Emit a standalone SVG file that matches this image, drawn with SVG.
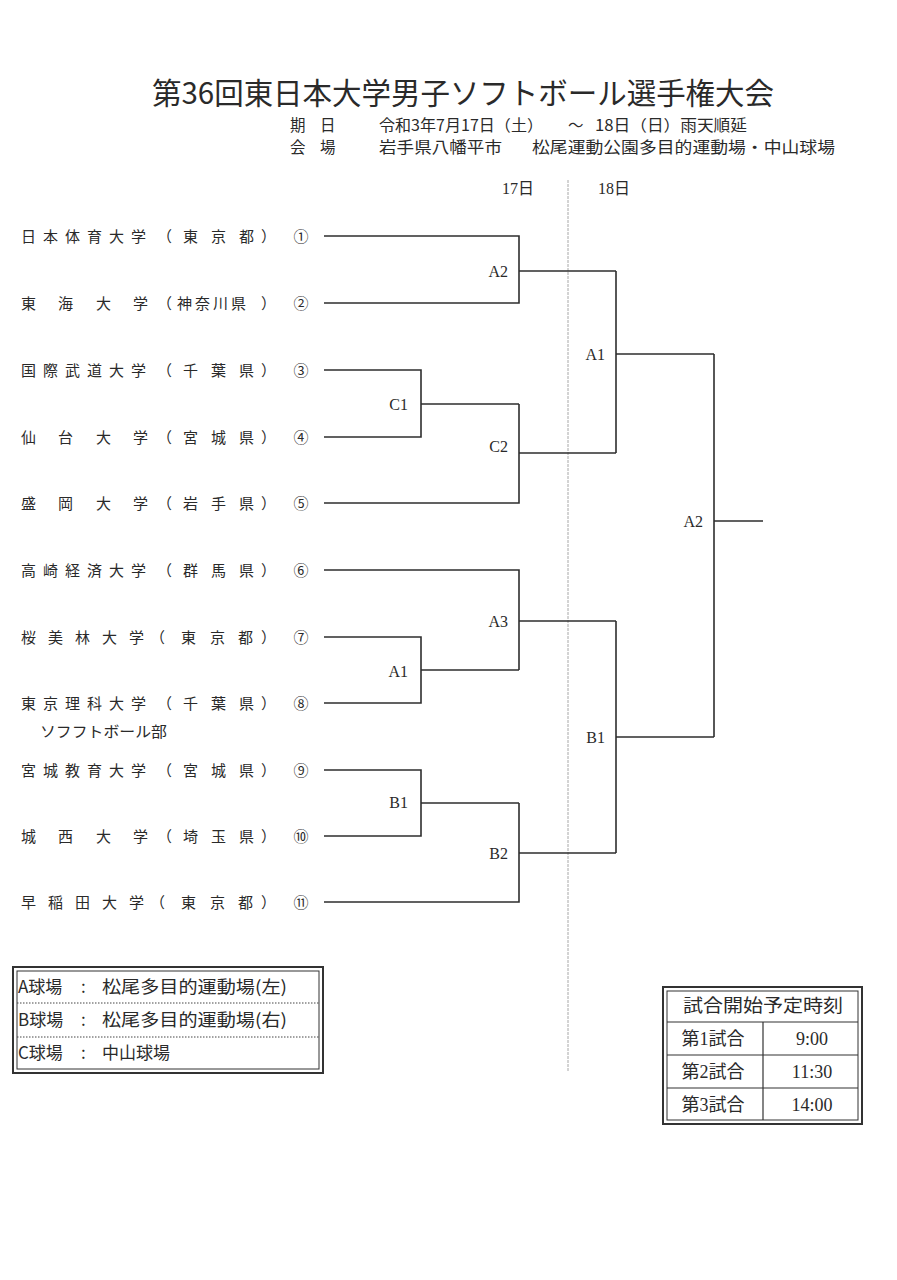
<svg xmlns="http://www.w3.org/2000/svg" width="897" height="1280" viewBox="0 0 897 1280">
<style>
.jp{font-family:"Noto Sans CJK JP","Noto Sans CJK SC",sans-serif;fill:#2a2a2a}
.sf{font-family:"Liberation Serif","Noto Sans CJK JP",serif;fill:#2a2a2a}
.name{font-size:15px}
.num{font-size:15px;text-anchor:middle}
.lbl{font-size:16px;text-anchor:end}
.hd{font-size:15.5px}
.br{fill:none;stroke:#2e2e2e;stroke-width:1.6}
.day{fill:none;stroke:#a8a8a8;stroke-width:1}
.box{fill:none;stroke:#333}
</style>
<rect width="897" height="1280" fill="#ffffff"/>

<g id="title">
<text class="jp" x="152" y="104" font-size="30" textLength="622" lengthAdjust="spacingAndGlyphs" fill="#1a1a1a">第36回東日本大学男子ソフトボール選手権大会</text>
</g>
<g id="header">
<text class="jp hd" x="290 320" y="131">期日</text>
<text class="jp hd" x="379" y="131" textLength="164" lengthAdjust="spacingAndGlyphs">令和3年7月17日（土）</text>
<text class="jp hd" x="568" y="131">～</text>
<text class="jp hd" x="595" y="131" textLength="152" lengthAdjust="spacingAndGlyphs">18日（日）雨天順延</text>
<text class="jp hd" x="290 320" y="153">会場</text>
<text class="jp hd" x="379" y="153" textLength="123" lengthAdjust="spacingAndGlyphs">岩手県八幡平市</text>
<text class="jp hd" x="532" y="153" textLength="303" lengthAdjust="spacingAndGlyphs">松尾運動公園多目的運動場・中山球場</text>
<text class="sf" x="502" y="194" font-size="16">17日</text>
<text class="sf" x="598" y="194" font-size="16">18日</text>
</g>

<g id="day-divider">
<line class="day" x1="568" y1="180" x2="568" y2="1072" stroke-dasharray="3 1"/>
</g>

<g id="team1"><text class="jp name" x="21 43 65 87 109 131 157 183 211 239 261" y="241.5">日本体育大学（東京都）</text><text class="jp num" x="301" y="241.5">①</text></g>
<g id="team2"><text class="jp name" x="21 58 96 133 157 177 195 213 231 261" y="308.5">東海大学（神奈川県）</text><text class="jp num" x="301" y="308.5">②</text></g>
<g id="team3"><text class="jp name" x="21 43 65 87 109 131 157 183 211 239 261" y="375.5">国際武道大学（千葉県）</text><text class="jp num" x="301" y="375.5">③</text></g>
<g id="team4"><text class="jp name" x="21 58 96 133 157 183 211 239 261" y="442.5">仙台大学（宮城県）</text><text class="jp num" x="301" y="442.5">④</text></g>
<g id="team5"><text class="jp name" x="21 58 96 133 157 183 211 239 261" y="508.5">盛岡大学（岩手県）</text><text class="jp num" x="301" y="508.5">⑤</text></g>
<g id="team6"><text class="jp name" x="21 43 65 87 109 131 157 183 211 239 261" y="575.5">高崎経済大学（群馬県）</text><text class="jp num" x="301" y="575.5">⑥</text></g>
<g id="team7"><text class="jp name" x="21 48 75 102 129 150 181 210 238 261" y="642.5">桜美林大学（東京都）</text><text class="jp num" x="301" y="642.5">⑦</text></g>
<g id="team8"><text class="jp name" x="21 43 65 87 109 131 157 183 211 239 261" y="708.5">東京理科大学（千葉県）</text><text class="jp num" x="301" y="708.5">⑧</text>
<text class="jp" x="40" y="737" font-size="15" textLength="127" lengthAdjust="spacingAndGlyphs">ソフフトボール部</text></g>
<g id="team9"><text class="jp name" x="21 43 65 87 109 131 157 183 211 239 261" y="775.5">宮城教育大学（宮城県）</text><text class="jp num" x="301" y="775.5">⑨</text></g>
<g id="team10"><text class="jp name" x="21 58 96 133 157 183 211 239 261" y="841.5">城西大学（埼玉県）</text><text class="jp num" x="301" y="841.5">⑩</text></g>
<g id="team11"><text class="jp name" x="21 48 75 102 129 150 181 210 238 261" y="907.5">早稲田大学（東京都）</text><text class="jp num" x="301" y="907.5">⑪</text></g>

<g id="connectors">
<path class="br" d="M324 236H519V303H324M519 271H616"/>
<path class="br" d="M324 370H421V437H324M421 404H519"/>
<path class="br" d="M519 404V503H324M519 453H616"/>
<path class="br" d="M616 271V453M616 354H714"/>
<path class="br" d="M324 570H519V670M519 621H616"/>
<path class="br" d="M324 637H421V703H324M421 670H519"/>
<path class="br" d="M324 770H421V836H324M421 803H519"/>
<path class="br" d="M519 803V902H324M519 853H616"/>
<path class="br" d="M616 621V853M616 737H714"/>
<path class="br" d="M714 354V737M714 521H763"/>
</g>

<g id="m-A2-r1"><text class="sf lbl" x="508" y="277">A2</text></g>
<g id="m-C1"><text class="sf lbl" x="408" y="410">C1</text></g>
<g id="m-C2"><text class="sf lbl" x="508" y="452">C2</text></g>
<g id="m-A1-r2"><text class="sf lbl" x="605" y="360">A1</text></g>
<g id="m-A3"><text class="sf lbl" x="508" y="627">A3</text></g>
<g id="m-A1-r1"><text class="sf lbl" x="408" y="677">A1</text></g>
<g id="m-B1-r1"><text class="sf lbl" x="408" y="808">B1</text></g>
<g id="m-B2"><text class="sf lbl" x="508" y="859">B2</text></g>
<g id="m-B1-r2"><text class="sf lbl" x="605" y="743">B1</text></g>
<g id="m-A2-final"><text class="sf lbl" x="703" y="527">A2</text></g>

<g id="legend">
<rect class="box" x="13" y="967" width="310" height="106" stroke-width="2"/>
<rect class="box" x="17" y="971" width="302" height="98" stroke-width="1"/>
<line x1="17" y1="1003" x2="319" y2="1003" stroke="#444" stroke-width="1" stroke-dasharray="1.5 1.5"/>
<line x1="17" y1="1037" x2="319" y2="1037" stroke="#444" stroke-width="1" stroke-dasharray="1.5 1.5"/>
<text class="jp" x="18" y="993" font-size="17">A球場</text>
<text class="jp" x="81" y="993" font-size="17">:</text>
<text class="jp" x="102" y="993" font-size="17" textLength="185" lengthAdjust="spacingAndGlyphs">松尾多目的運動場(左)</text>
<text class="jp" x="18" y="1026" font-size="17">B球場</text>
<text class="jp" x="81" y="1026" font-size="17">:</text>
<text class="jp" x="102" y="1026" font-size="17" textLength="185" lengthAdjust="spacingAndGlyphs">松尾多目的運動場(右)</text>
<text class="jp" x="18" y="1059" font-size="17">C球場</text>
<text class="jp" x="81" y="1059" font-size="17">:</text>
<text class="jp" x="102" y="1059" font-size="17">中山球場</text>
</g>

<g id="schedule">
<rect class="box" x="663" y="987" width="199" height="137" stroke-width="2"/>
<rect class="box" x="667" y="991" width="191" height="129" stroke-width="1"/>
<line x1="667" y1="1022" x2="858" y2="1022" stroke="#333" stroke-width="1.2"/>
<line x1="667" y1="1055" x2="858" y2="1055" stroke="#333" stroke-width="1.2"/>
<line x1="667" y1="1088" x2="858" y2="1088" stroke="#333" stroke-width="1.2"/>
<line x1="763" y1="1022" x2="763" y2="1120" stroke="#333" stroke-width="1.2"/>
<text class="jp" x="683" y="1012" font-size="18" textLength="160" lengthAdjust="spacingAndGlyphs">試合開始予定時刻</text>
<text class="sf" x="713" y="1045" font-size="18" text-anchor="middle">第1試合</text>
<text class="sf" x="812" y="1045" font-size="18" text-anchor="middle">9:00</text>
<text class="sf" x="713" y="1078" font-size="18" text-anchor="middle">第2試合</text>
<text class="sf" x="812" y="1078" font-size="18" text-anchor="middle">11:30</text>
<text class="sf" x="713" y="1111" font-size="18" text-anchor="middle">第3試合</text>
<text class="sf" x="812" y="1111" font-size="18" text-anchor="middle">14:00</text>
</g>
</svg>
